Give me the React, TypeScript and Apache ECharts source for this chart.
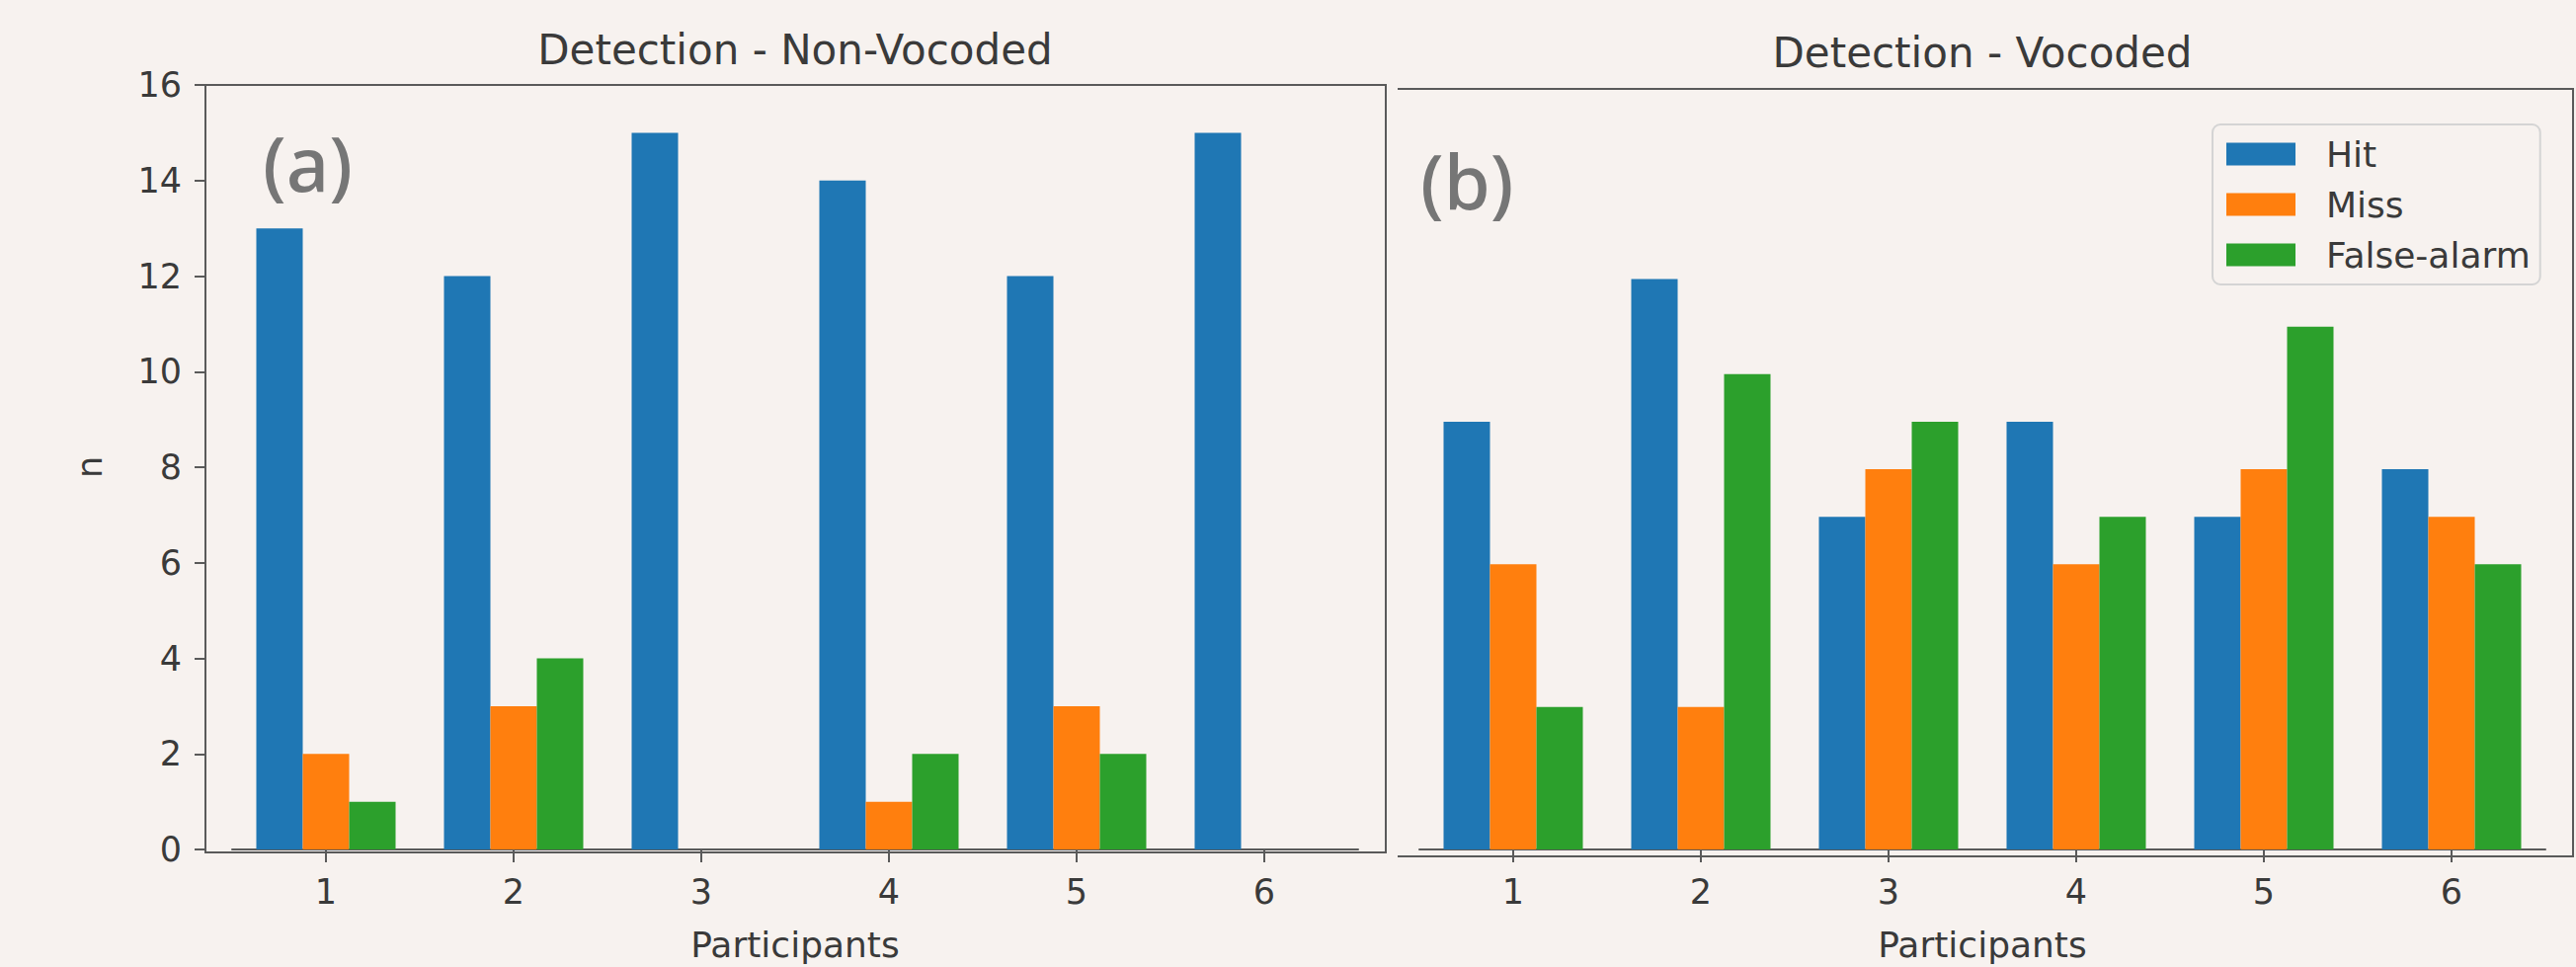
import React, { useEffect, useRef } from "react";
import * as echarts from "echarts";

const categories = ["1", "2", "3", "4", "5", "6"];
const seriesNames = ["Hit", "Miss", "False-alarm"];
const nonVocodedHit = [13, 12, 15, 14, 12, 15];
const nonVocodedMiss = [2, 3, 0, 1, 3, 0];
const nonVocodedFalseAlarm = [1, 4, 0, 2, 2, 0];
const vocodedHit = [9, 12, 7, 9, 7, 8];
const vocodedMiss = [6, 3, 8, 6, 8, 7];
const vocodedFalseAlarm = [3, 10, 9, 7, 11, 6];
const yTicks = { min: 0, max: 16, interval: 2 };

const COLORS = ["#1f77b4", "#ff7f0e", "#2ca02c"];
const BG = "#f7f2ef";
const SPINE = "#5a5a5a";
const TEXT = "#3a3a3a";
const FONT = "DejaVu Sans";

export default function App() {
  const ref = useRef<HTMLDivElement>(null);
  useEffect(() => {
    if (!ref.current) return;
    const chart = echarts.init(ref.current, undefined, { renderer: "svg" });
    const left = [nonVocodedHit, nonVocodedMiss, nonVocodedFalseAlarm];
    const right = [vocodedHit, vocodedMiss, vocodedFalseAlarm];
    const series: any[] = [];
    [left, right].forEach((panel, p) => {
      panel.forEach((vals, i) => {
        series.push({
          type: "bar",
          name: seriesNames[i],
          xAxisIndex: p,
          yAxisIndex: p,
          data: vals,
          barWidth: 47,
          barGap: "0%",
          itemStyle: { color: COLORS[i] },
          emphasis: { disabled: true },
        });
      });
    });
    const xAxisBase = (gridIndex: number) => ({
      type: "category",
      gridIndex,
      data: categories,
      axisLine: { show: true, lineStyle: { color: SPINE, width: 2 } },
      axisTick: { show: true, alignWithLabel: true, length: 13, lineStyle: { color: SPINE, width: 2 } },
      axisLabel: { fontSize: 35, color: TEXT, fontFamily: FONT, margin: 25 },
      name: "Participants",
      nameLocation: "middle",
      nameGap: 78,
      nameTextStyle: { fontSize: 36, color: TEXT, fontFamily: FONT },
    });
    chart.setOption({
      animation: false,
      backgroundColor: BG,
      grid: [
        { left: 235, top: 86, width: 1140, height: 777 },
        { left: 1437, top: 90, width: 1140, height: 777 },
      ],
      xAxis: [xAxisBase(0), xAxisBase(1)],
      yAxis: [
        {
          type: "value",
          gridIndex: 0,
          min: yTicks.min,
          max: yTicks.max,
          interval: yTicks.interval,
          offset: 27,
          axisLine: { show: true, lineStyle: { color: SPINE, width: 2 } },
          axisTick: { show: true, length: 11, lineStyle: { color: SPINE, width: 2 } },
          axisLabel: { fontSize: 35, color: TEXT, fontFamily: FONT, margin: 24 },
          splitLine: { show: false },
          name: "n",
          nameLocation: "middle",
          nameGap: 100,
          nameRotate: 90,
          nameTextStyle: { fontSize: 35, color: TEXT, fontFamily: FONT },
        },
        {
          type: "value",
          gridIndex: 1,
          min: yTicks.min,
          max: yTicks.max,
          interval: yTicks.interval,
          axisLine: { show: false },
          axisTick: { show: false },
          axisLabel: { show: false },
          splitLine: { show: false },
        },
      ],
      legend: {
        data: seriesNames,
        orient: "vertical",
        left: 2240,
        top: 126,
        icon: "rect",
        itemWidth: 70,
        itemHeight: 23,
        itemGap: 15,
        padding: [12, 10, 12, 14],
        borderColor: "#d4d4d4",
        borderWidth: 2,
        borderRadius: 8,
        selectedMode: false,
        textStyle: { fontSize: 36, color: TEXT, fontFamily: FONT, padding: [0, 0, 0, 26] },
      },
      graphic: [
        {
          type: "rect",
          silent: true,
          shape: { x: 208, y: 86, width: 1195, height: 777 },
          style: { fill: "none", stroke: SPINE, lineWidth: 2 },
          z: 10,
        },
        {
          type: "polyline",
          silent: true,
          shape: { points: [[1415, 90], [2605, 90], [2605, 867], [1415, 867]] },
          style: { fill: "none", stroke: SPINE, lineWidth: 2 },
          z: 10,
        },
        {
          type: "text",
          x: 805,
          y: 50,
          style: { text: "Detection - Non-Vocoded", fontSize: 42, fill: TEXT, fontFamily: FONT, textAlign: "center", textVerticalAlign: "middle" },
        },
        {
          type: "text",
          x: 2007,
          y: 53,
          style: { text: "Detection - Vocoded", fontSize: 42, fill: TEXT, fontFamily: FONT, textAlign: "center", textVerticalAlign: "middle" },
        },
        {
          type: "text",
          x: 266,
          y: 164,
          style: { text: "(a)", fontSize: 76, fontWeight: 500, fill: "#767676", fontFamily: "Noto Sans", textAlign: "left", textVerticalAlign: "middle" },
        },
        {
          type: "text",
          x: 1438,
          y: 182,
          style: { text: "(b)", fontSize: 76, fontWeight: 500, fill: "#767676", fontFamily: "Noto Sans", textAlign: "left", textVerticalAlign: "middle" },
        },
      ],
      series,
    });
    return () => chart.dispose();
  }, []);
  return (
    <div
      ref={ref}
      style={{ position: "fixed", left: 0, top: 0, width: 2608, height: 979, background: BG }}
    />
  );
}
